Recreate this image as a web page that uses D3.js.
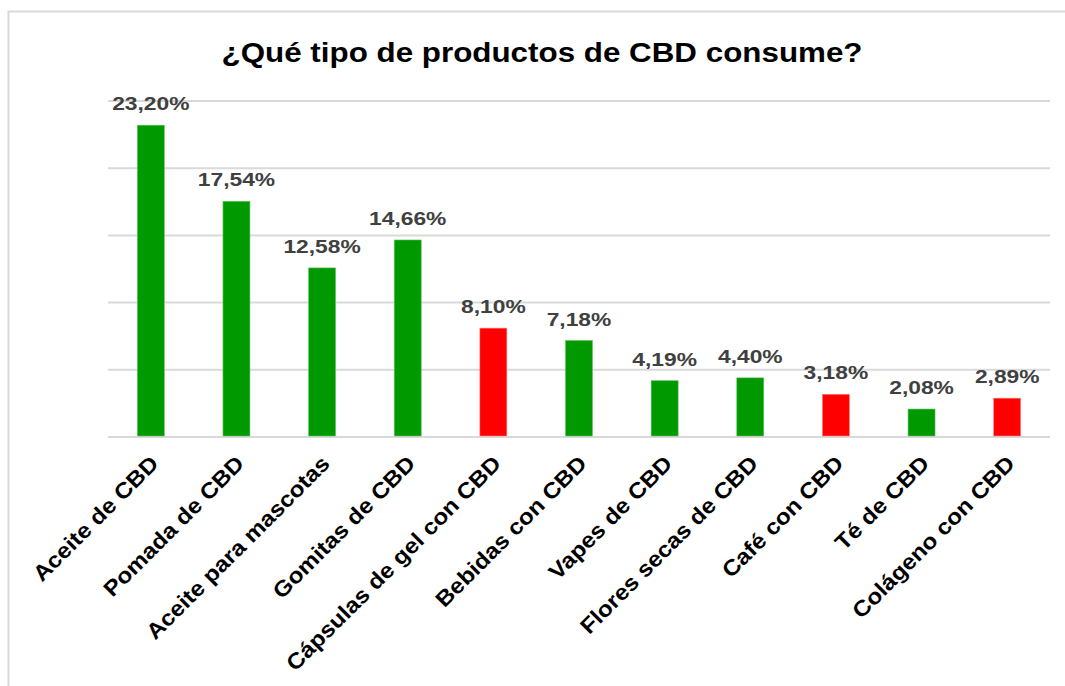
<!DOCTYPE html>
<html>
<head>
<meta charset="utf-8">
<script src="https://cdn.jsdelivr.net/npm/d3@7"></script>
<style>
  body { margin: 0; background: #fff; }
  svg { font-family: "Liberation Sans", Arial, sans-serif; }
</style>
</head>
<body>
<svg id="chart"></svg>
<script>
const categories = ["Aceite de CBD", "Pomada de CBD", "Aceite para mascotas", "Gomitas de CBD",
    "Cápsulas de gel con CBD", "Bebidas con CBD", "Vapes de CBD", "Flores secas de CBD",
    "Café con CBD", "Té de CBD", "Colágeno con CBD"];
const values = [23.20, 17.54, 12.58, 14.66, 8.10, 7.18, 4.19, 4.40, 3.18, 2.08, 2.89];
const highlighted = [false, false, false, false, true, false, false, false, true, false, true];
const yTicks = [0, 5, 10, 15, 20, 25];

const width = 1065;
const height = 686;
const marginLeft = 108;
const marginRight = 15;
const marginTop = 101;
const plotBottom = 437;

const svg = d3.select("#chart")
    .attr("width", width)
    .attr("height", height)
    .attr("viewBox", [0, 0, width, height]);

// outer frame
svg.append("rect")
    .attr("x", 8.5).attr("y", 11.5)
    .attr("width", width + 10).attr("height", height + 10)
    .attr("fill", "none")
    .attr("stroke", "#d9d9d9")
    .attr("stroke-width", 2);

svg.append("text")
    .attr("transform", "translate(542,62) scale(1.12,1)")
    .attr("text-anchor", "middle")
    .attr("font-size", "28px")
    .attr("font-weight", "bold")
    .attr("fill", "#000")
    .text("¿Qué tipo de productos de CBD consume?");

const xScale = d3.scaleBand(categories, [marginLeft, width - marginRight]).paddingInner(0.685).paddingOuter(0.3425);
const yScale = d3.scaleLinear([0, 25], [plotBottom, marginTop]);

// gridlines
svg.append("g")
    .selectAll("line")
    .data(yTicks)
    .join("line")
    .attr("x1", marginLeft)
    .attr("x2", width - marginRight)
    .attr("y1", d => yScale(d))
    .attr("y2", d => yScale(d))
    .attr("stroke", "#d9d9d9")
    .attr("stroke-width", 2);

const data = categories.map((c, i) => ({cat: c, value: values[i], hl: highlighted[i]}));

svg.append("g")
    .selectAll("rect")
    .data(data)
    .join("rect")
    .attr("x", d => xScale(d.cat))
    .attr("width", xScale.bandwidth())
    .attr("y", d => yScale(d.value))
    .attr("height", d => yScale(0) - yScale(d.value) - 1)
    .attr("fill", d => d.hl ? "#ff0000" : "#009900")
    .attr("stroke", d => d.hl ? "#ff8080" : "#66c266")
    .attr("stroke-width", 0.6);

svg.append("g")
    .selectAll("text")
    .data(data)
    .join("text")
    .attr("transform", d => `translate(${xScale(d.cat) + xScale.bandwidth() / 2},${yScale(d.value) - 15}) scale(1.2,1)`)
    .attr("text-anchor", "middle")
    .attr("font-size", "19px")
    .attr("font-weight", "bold")
    .attr("fill", "#404040")
    .text(d => d.value.toFixed(2).replace(".", ",") + "%");

// x axis labels
const xAxis = d3.axisBottom(xScale).tickSize(0).tickPadding(0);
const gx = svg.append("g")
    .attr("transform", `translate(0,${plotBottom})`)
    .call(xAxis);
gx.select(".domain").remove();
gx.selectAll(".tick text")
    .attr("font-family", "Liberation Sans, Arial, sans-serif")
    .attr("font-size", "22px")
    .attr("font-weight", "bold")
    .attr("fill", "#000")
    .attr("text-anchor", "end")
    .attr("y", 0)
    .attr("dy", null)
    .attr("transform", "translate(9,28) rotate(-45) scale(1.1,1)");
</script>
</body>
</html>
